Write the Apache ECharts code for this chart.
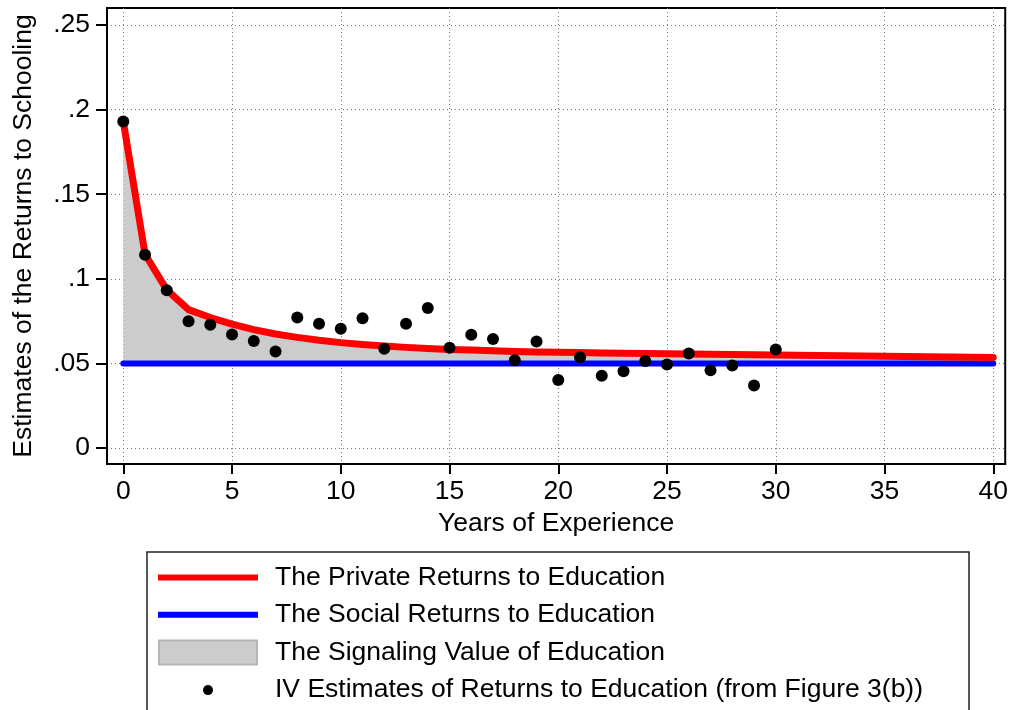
<!DOCTYPE html>
<html><head><meta charset="utf-8">
<script src="https://cdn.jsdelivr.net/npm/echarts@6/dist/echarts.min.js"></script>
<style>html,body{margin:0;padding:0;background:#fff}#c{width:1011px;height:710px}</style>
</head><body><div id="c"></div>
<script>
const years = [0,1,2,3,4,5,6,7,8,9,10,11,12,13,14,15,16,17,18,19,20,21,22,23,24,25,26,27,28,29,30,31,32,33,34,35,36,37,38,39,40];
const privateReturns = [0.193,0.1145,0.0935,0.0818,0.0771,0.0732,0.0700,0.0674,0.0654,0.0637,0.0623,0.0612,0.0603,0.0595,0.0589,0.0583,0.0579,0.0575,0.0571,0.0568,0.0566,0.0564,0.0562,0.0560,0.0559,0.0557,0.0556,0.0554,0.0553,0.0552,0.0550,0.0549,0.0547,0.0546,0.0544,0.0543,0.0541,0.0540,0.0538,0.0537,0.0535];
const socialLevel = 0.05;
const socialYears = [0, 40];
const socialReturns = [0.05, 0.05];
const ivYears = [0,1,2,3,4,5,6,7,8,9,10,11,12,13,14,15,16,17,18,19,20,21,22,23,24,25,26,27,28,29,30];
const ivEstimates = [0.193,0.1142,0.0933,0.0750,0.0729,0.0671,0.0632,0.0570,0.0772,0.0734,0.0705,0.0767,0.0587,0.0734,0.0828,0.0593,0.0669,0.0644,0.0519,0.0630,0.0402,0.0537,0.0427,0.0454,0.0515,0.0494,0.0559,0.0460,0.0488,0.0370,0.0583];
const xTicks = [0,5,10,15,20,25,30,35,40];
const yTicks = [0,0.05,0.1,0.15,0.2,0.25];
const names = ['The Private Returns to Education','The Social Returns to Education','The Signaling Value of Education','IV Estimates of Returns to Education (from Figure 3(b))'];

const FONT = "'Liberation Sans', Arial, Helvetica, sans-serif";
const FS = 26.5;
const chart = echarts.init(document.getElementById('c'), null, {renderer: 'canvas'});

const privData = years.map((x, i) => [x, privateReturns[i]]);
const socialData = socialYears.map((x, i) => [x, socialReturns[i]]);
const ivData = ivYears.map((x, i) => [x, ivEstimates[i]]);

const gridLine = {show: true, lineStyle: {color: '#777', width: 1, type: [1, 3]}};

chart.setOption({
  animation: false,
  textStyle: {fontFamily: FONT},
  grid: {left: 107, right: 5, top: 8, bottom: 246, show: true, borderColor: '#000', borderWidth: 2, backgroundColor: 'transparent', containLabel: false},
  xAxis: {
    type: 'value', min: -0.749, max: 40.55,
    name: 'Years of Experience', nameLocation: 'middle', nameGap: 41,
    nameTextStyle: {fontSize: FS, color: '#000', fontFamily: FONT},
    axisLine: {show: true, onZero: false, lineStyle: {color: '#000', width: 2}},
    axisTick: {show: true, length: 10, lineStyle: {color: '#000', width: 2}, customValues: xTicks},
    axisLabel: {fontSize: FS, color: '#000', margin: 14, fontFamily: FONT, customValues: xTicks, formatter: (v) => String(v)},
    splitLine: gridLine
  },
  yAxis: {
    type: 'value', min: -0.0094, max: 0.26,
    name: 'Estimates of the Returns to Schooling', nameLocation: 'middle', nameGap: 70, nameRotate: 90,
    nameTextStyle: {fontSize: FS, color: '#000', fontFamily: FONT},
    axisLine: {show: true, onZero: false, lineStyle: {color: '#000', width: 2}},
    axisTick: {show: true, length: 11, lineStyle: {color: '#000', width: 2}, customValues: yTicks},
    axisLabel: {fontSize: FS, color: '#000', margin: 17, fontFamily: FONT, customValues: yTicks,
      formatter: (v) => (Math.abs(v) < 1e-9 ? '0' : String(+v.toFixed(2)).replace(/^0/, ''))},
    splitLine: gridLine
  },
  legend: {
    orient: 'vertical', left: 147, top: 552, height: 170,
    padding: [12, 46, 30, 10],
    itemWidth: 112, itemHeight: 26, itemGap: 10.2,
    borderColor: '#222', borderWidth: 1.5, backgroundColor: '#fff',
    selectedMode: false,
    textStyle: {fontSize: FS, color: '#000', fontFamily: FONT},
    data: [
      {name: names[0], icon: 'path://M0,0M112,26M0,10L100,10L100,16L0,16Z', itemStyle: {color: '#ff0000', borderWidth: 0}},
      {name: names[1], icon: 'path://M0,0M112,26M0,10L100,10L100,16L0,16Z', itemStyle: {color: '#0000ff', borderWidth: 0}},
      {name: names[2], icon: 'path://M0,0M112,26M1,1L99,1L99,25L1,25Z', itemStyle: {color: '#cccccc', borderColor: '#b5b5b5', borderWidth: 2}},
      {name: names[3], icon: 'path://M0,0M112,26M45,13A5,5 0 1,0 55,13A5,5 0 1,0 45,13Z', itemStyle: {color: '#000', borderWidth: 0, opacity: 1}}
    ]
  },
  series: [
    {name: names[2], type: 'line', data: privData, symbol: 'none', lineStyle: {width: 0, opacity: 0, color: '#cccccc'}, itemStyle: {color: '#cccccc'}, areaStyle: {color: '#cccccc', opacity: 1, origin: socialLevel}, silent: true, z: 1},
    {name: names[1], type: 'line', data: socialData, symbol: 'none', lineStyle: {color: '#0000ff', width: 6, cap: 'round'}, itemStyle: {color: '#0000ff'}, z: 3},
    {name: names[0], type: 'line', data: privData, symbol: 'none', lineStyle: {color: '#ff0000', width: 7, cap: 'round', join: 'round'}, itemStyle: {color: '#ff0000'}, z: 4},
    {name: names[3], type: 'scatter', data: ivData, symbol: 'circle', symbolSize: 12, itemStyle: {color: '#000', opacity: 1}, z: 5}
  ]
});
</script></body></html>
